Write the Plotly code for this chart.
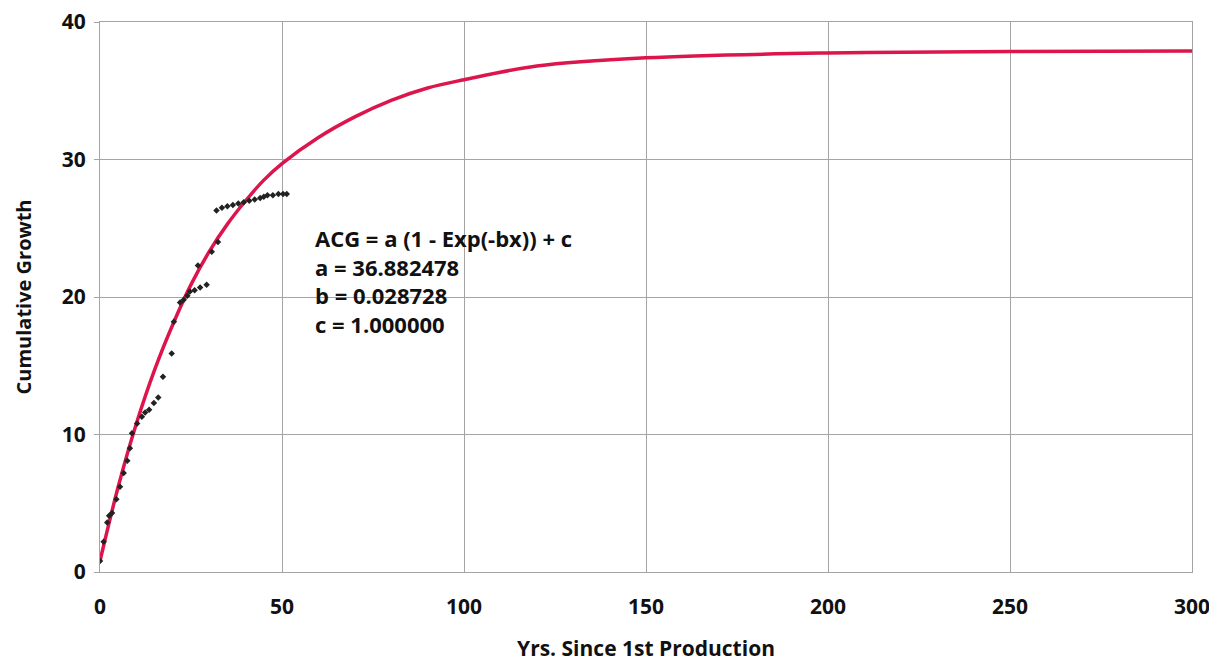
import plotly.graph_objects as go

# Fitted curve
curve_x = [0, 5, 10, 15, 20, 25, 30, 35, 40, 45, 50, 60, 70, 80, 90, 100, 120, 150, 200, 250, 300]
curve_y = [0.8, 6.2, 10.8, 14.7, 18.0, 20.9, 23.3, 25.3, 27.0, 28.5, 29.7, 31.6, 33.1, 34.3, 35.2,
           35.8, 36.8, 37.4, 37.75, 37.85, 37.9]

obs_x = [0, 1, 2, 2.5, 3.3, 4.5, 5.5, 6.5, 7.5, 8.2, 8.8, 10.2, 11.5, 12.4, 13.5, 14.8, 16.0,
         17.3, 19.7, 20.3, 22, 23, 24, 24.7, 26, 27.5, 29.3, 26.9, 30.7, 32.4,
         32, 33.5, 35, 36.5, 38, 39.5, 41, 42.5, 44, 45, 46, 47.5, 49, 50.3, 51.3]
obs_y = [0.8, 2.2, 3.6, 4.1, 4.3, 5.3, 6.2, 7.2, 8.1, 9.0, 10.1, 10.8, 11.3, 11.6, 11.8, 12.3, 12.7,
         14.2, 15.9, 18.2, 19.6, 19.8, 20.1, 20.4, 20.5, 20.7, 20.9, 22.3, 23.3, 24.0,
         26.3, 26.5, 26.6, 26.7, 26.8, 26.9, 27.0, 27.1, 27.2, 27.3, 27.4, 27.4, 27.5, 27.5, 27.5]

eq_lines = ["ACG = a (1 - Exp(-bx)) + c", "a = 36.882478", "b = 0.028728", "c = 1.000000"]

x_ticks = [0, 50, 100, 150, 200, 250, 300]
y_ticks = [0, 10, 20, 30, 40]

FONT = "Open Sans"
TXT = "#111111"
GRID = "#a4a4a4"

fig = go.Figure()
fig.add_trace(go.Scatter(x=curve_x, y=curve_y, mode="lines",
                         line=dict(color="#DC164C", width=3.5, shape="spline", smoothing=1.0),
                         showlegend=False, hoverinfo="skip"))
fig.add_trace(go.Scatter(x=obs_x, y=obs_y, mode="markers",
                         marker=dict(color="#222222", size=5, symbol="diamond"),
                         showlegend=False))

fig.add_annotation(x=58.5, y=21.2, xref="x", yref="y", xanchor="left", yanchor="middle",
                   align="left", showarrow=False, text="<br>".join(eq_lines),
                   font=dict(family=FONT, size=22, color=TXT, weight="bold"))

fig.update_layout(
    width=1217, height=665,
    margin=dict(l=92, r=33, t=14, b=101, autoexpand=False),
    paper_bgcolor="white", plot_bgcolor="white",
    font=dict(family=FONT, color=TXT),
    xaxis=dict(range=[0, 300], tickvals=x_ticks, showgrid=True, gridcolor=GRID, gridwidth=1,
               showline=True, linecolor=GRID, mirror=True, zeroline=False,
               ticks="outside", ticklen=16, tickcolor="rgba(0,0,0,0)", ticklabeloverflow="allow",
               tickfont=dict(family=FONT, size=21, weight="bold", color=TXT),
               title=dict(text="Yrs. Since 1st Production", standoff=22,
                          font=dict(family=FONT, size=21, weight="bold", color=TXT))),
    yaxis=dict(range=[0, 40], tickvals=y_ticks, showgrid=True, gridcolor=GRID, gridwidth=1,
               showline=True, linecolor=GRID, mirror=True, zeroline=False,
               ticks="outside", ticklen=5, tickcolor=GRID, ticklabelstandoff=4,
               ticklabeloverflow="allow",
               tickfont=dict(family=FONT, size=21, weight="bold", color=TXT),
               title=dict(text="Cumulative Growth", standoff=24,
                          font=dict(family=FONT, size=20, weight="bold", color=TXT))),
)

fig.write_html("out.html")
